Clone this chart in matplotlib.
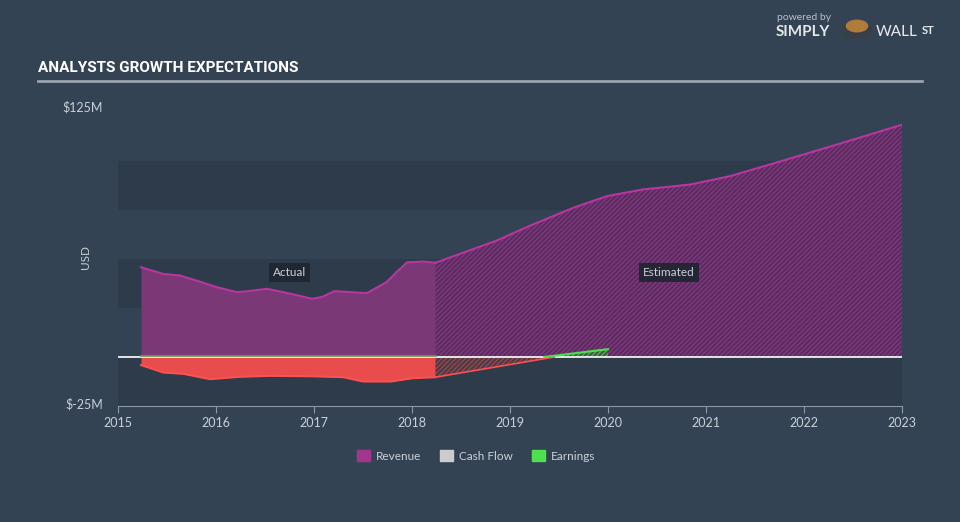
import matplotlib
matplotlib.use("Agg")
import matplotlib.pyplot as plt
from matplotlib.patches import Patch

# revenue (USD millions)
rev_act_x = [2015.235, 2015.46, 2015.63, 2015.80, 2016.01, 2016.21, 2016.31, 2016.52,
             2016.76, 2016.98, 2017.08, 2017.21, 2017.37, 2017.54, 2017.74, 2017.84,
             2017.95, 2018.12, 2018.24]
rev_act = [45.8, 42.4, 41.6, 39.0, 35.6, 33.1, 33.5, 34.8, 32.3, 29.7, 30.6, 33.6, 33.1,
           32.6, 38.2, 43.2, 48.3, 48.7, 48.1]
rev_est_x = [2018.24, 2018.86, 2019.20, 2019.65, 2019.99, 2020.36, 2020.84, 2021.24,
             2021.76, 2022.27, 2023.00]
rev_est = [48.1, 59.3, 66.9, 76.2, 82.1, 85.5, 88.0, 92.2, 99.8, 107.4, 118.5]

# cash flow
cf_act_x = [2015.235, 2015.46, 2015.67, 2015.94, 2016.24, 2016.55, 2016.96, 2017.30,
            2017.50, 2017.78, 2018.01, 2018.24]
cf_act = [-4.1, -7.9, -8.6, -11.3, -10.1, -9.6, -9.8, -10.3, -12.5, -12.5, -10.8, -10.3]
cf_est_x = [2018.24, 2019.45]
cf_est = [-10.3, 0.0]

# earnings
earn_act_x = [2015.235, 2018.24]
earn_act = [0.3, 0.3]
earn_est_x = [2018.24, 2019.35, 2020.0]
earn_est = [0.2, 0.0, 4.0]

years = list(range(2015, 2024))

bg = "#344354"
dark = "#2e3b4a"
rev_line = "#b8369f"
rev_fill = "#7b3877"
cf_line = "#ff5050"
cf_fill = "#e84c4c"
earn_col = "#4fe050"
txt = "#c9d0d8"

plt.rcParams["font.family"] = ["Lato", "DejaVu Sans"]
plt.rcParams["hatch.linewidth"] = 0.7

fig = plt.figure(figsize=(9.6, 5.22), dpi=100, facecolor=bg)
ax = fig.add_axes([118 / 960, 1 - 406 / 522, 784 / 960, 294 / 522])
ax.set_facecolor(bg)
ax.set_xlim(2015, 2023)
ax.set_ylim(-25, 125)

for lo in (-25, 25, 75):
    ax.axhspan(lo, lo + 25, color=dark, lw=0, zorder=0)

# revenue
ax.fill_between(rev_act_x, rev_act, 0, color=rev_fill, lw=0, zorder=2)
ax.plot(rev_act_x, rev_act, color=rev_line, lw=1.5, zorder=4)
ax.fill_between(rev_est_x, rev_est, 0, facecolor="#5a2d5e", edgecolor="#8e3a8c",
                hatch="///////", lw=0, zorder=2)
ax.plot(rev_est_x, rev_est, color=rev_line, lw=1.5, zorder=4)

# cash flow
ax.fill_between(cf_act_x, cf_act, 0, color=cf_fill, lw=0, zorder=2)
ax.plot(cf_act_x, cf_act, color=cf_line, lw=1.5, zorder=4)
ax.fill_between(cf_est_x, cf_est, 0, facecolor="#4a3c48", edgecolor="#b04848",
                hatch="///////", lw=0, zorder=2)
ax.plot(cf_est_x, cf_est, color=cf_line, lw=1.2, zorder=4)

# zero line
ax.axhline(0, color="white", lw=1.2, zorder=3)

# earnings
ax.plot(earn_act_x, earn_act, color="#6a9a50", lw=1.2, zorder=4)
ax.fill_between(earn_est_x, earn_est, 0, facecolor="#3e5a48", edgecolor="#5fbf5a",
                hatch="///////", lw=0, zorder=2)
ax.plot(earn_est_x[1:], earn_est[1:], color=earn_col, lw=1.5, zorder=4)

# period labels
box = dict(boxstyle="square,pad=0.35", fc="#1e2530", ec="none", alpha=0.9)
ax.text(2016.75, 43, "Actual", color=txt, fontsize=8.5, ha="center", va="center",
        bbox=box, zorder=6)
ax.text(2020.62, 43, "Estimated", color=txt, fontsize=8.5, ha="center", va="center",
        bbox=box, zorder=6)

# axes styling
for s in ("top", "right", "left"):
    ax.spines[s].set_visible(False)
ax.spines["bottom"].set_color("#8d98a5")
ax.set_yticks([])
ax.set_xticks(years)
ax.set_xticklabels([str(y) for y in years])
ax.tick_params(axis="x", colors="#8d98a5", labelcolor=txt, labelsize=9, length=5, pad=3)

# y labels
fig.text(103 / 960, 1 - 107 / 522, "$125M", color=txt, fontsize=9, ha="right", va="center")
fig.text(103 / 960, 1 - 404 / 522, "$-25M", color=txt, fontsize=9, ha="right", va="center")
fig.text(86 / 960, 1 - 257 / 522, "USD", color=txt, fontsize=8.5, ha="center", va="center",
         rotation=90)

# title
fig.text(38 / 960, 1 - 68 / 522, "ANALYSTS GROWTH EXPECTATIONS", color="white",
         fontsize=11, fontweight="bold",
         family=["Roboto", "DejaVu Sans"], ha="left", va="center")
fig.add_artist(plt.Line2D([38 / 960, 922 / 960], [1 - 81 / 522, 1 - 81 / 522],
                          color="#9aa3ad", lw=2))

# branding
fig.text(777 / 960, 1 - 17 / 522, "powered by", color="#b8c0c8", fontsize=7.5,
         ha="left", va="center")
fig.text(776 / 960, 1 - 32 / 522, "SIMPLY", color="#e6e9ec", fontsize=11,
         fontweight="bold", ha="left", va="center")
fig.text(876 / 960, 1 - 32 / 522, "WALL", color="#e6e9ec", fontsize=11,
         ha="left", va="center")
fig.text(922 / 960, 1 - 30 / 522, "ST", color="#e6e9ec", fontsize=8,
         fontweight="bold", ha="left", va="center")
fig.add_artist(plt.Circle((857 / 960, 1 - 30 / 522), 0.015, transform=fig.transFigure,
                          color="#3a3f46"))
fig.add_artist(plt.Circle((857 / 960, 1 - 26 / 522), 0.011, transform=fig.transFigure,
                          color="#b07c3a"))

# legend
handles = [Patch(color="#a3358f", label="Revenue"),
           Patch(color="#cccccc", label="Cash Flow"),
           Patch(color=earn_col, label="Earnings")]
leg = fig.legend(handles=handles, loc="center", bbox_to_anchor=(476 / 960, 1 - 456 / 522),
                 ncol=3, frameon=False, fontsize=8.5, handlelength=1.1, handleheight=1.1,
                 columnspacing=1.6, handletextpad=0.5)
for t in leg.get_texts():
    t.set_color(txt)

fig.savefig("out.png", dpi=100, facecolor=bg)
